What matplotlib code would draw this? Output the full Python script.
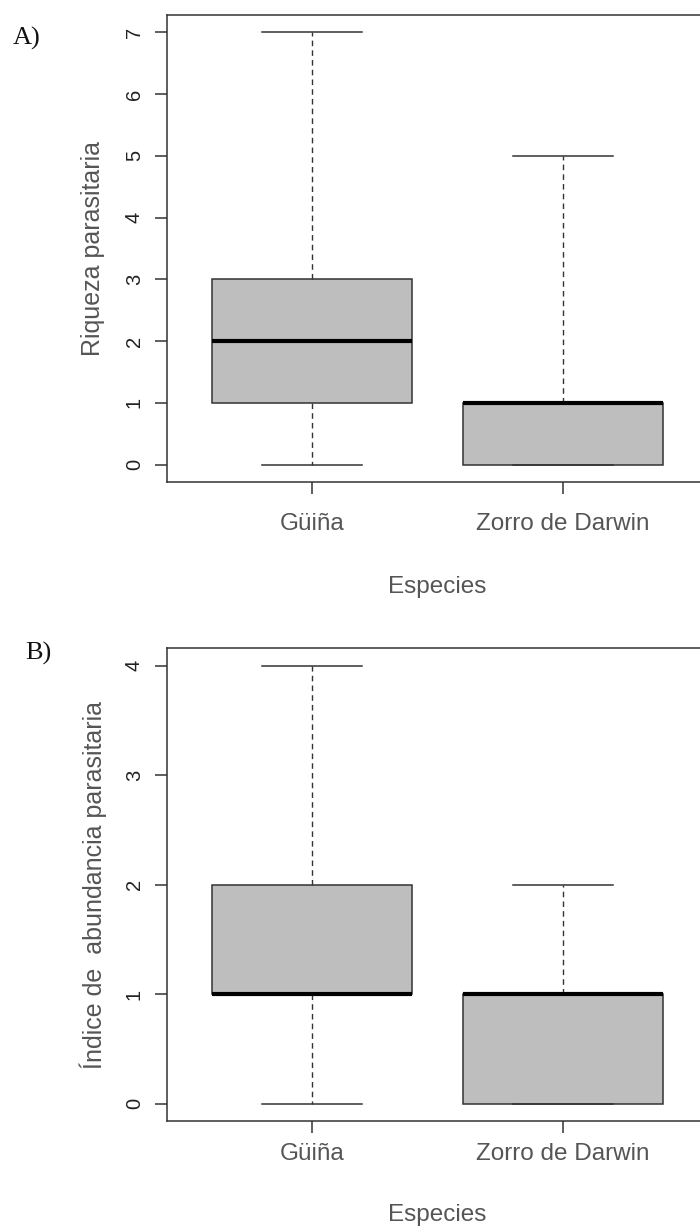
import matplotlib.pyplot as plt

# five-number summaries
species = ['Güiña', 'Zorro de Darwin']

riqueza_min = [0, 0]
riqueza_q1 = [1, 0]
riqueza_med = [2, 1]
riqueza_q3 = [3, 1]
riqueza_max = [7, 5]

abund_min = [0, 0]
abund_q1 = [1, 0]
abund_med = [1, 1]
abund_q3 = [2, 1]
abund_max = [4, 2]

edge = '#333333'
txt = '#555555'


def make_stats(mins, q1s, meds, q3s, maxs):
    out = []
    for lo, a, m, b, hi in zip(mins, q1s, meds, q3s, maxs):
        out.append({'whislo': lo, 'q1': a, 'med': m, 'q3': b, 'whishi': hi, 'fliers': []})
    return out


def draw_panel(ax, stats, ymax, ylabel, tickpad, xlab_y):
    ax.bxp(stats, positions=[1, 2], widths=0.8, patch_artist=True, showfliers=False,
           boxprops=dict(facecolor='#bebebe', edgecolor=edge, linewidth=1.1),
           medianprops=dict(color='black', linewidth=3.0, solid_capstyle='butt'),
           whiskerprops=dict(color=edge, linewidth=1.0, linestyle=(0, (4, 3))),
           capprops=dict(color=edge, linewidth=1.1), capwidths=0.4)
    pad = ymax * 0.04
    ax.set_ylim(-pad, ymax + pad)
    ax.set_xlim(0.42, 2.58)
    ax.set_yticks(range(0, ymax + 1))
    ax.set_xticks([1, 2])
    ax.set_xticklabels(species)
    for s in ax.spines.values():
        s.set_color(edge)
        s.set_linewidth(1.1)
    ax.tick_params(axis='both', length=8.6, width=1.1, color=edge)
    ax.tick_params(axis='y', labelsize=14.5, labelcolor='#222222', pad=8)
    ax.tick_params(axis='x', labelsize=17.5, labelcolor=txt, pad=tickpad)
    for lab in ax.get_yticklabels():
        lab.set_rotation(90)
        lab.set_va('center')
    ax.set_xlabel('Especies', fontsize=17.5, color=txt)
    ax.xaxis.set_label_coords(0.5, xlab_y)
    ax.xaxis.label.set_va('center')
    ax.set_ylabel(ylabel, fontsize=18, color=txt)
    ax.yaxis.set_label_coords(-0.137, 0.5)
    ax.yaxis.label.set_va('center')


plt.rcParams['font.family'] = ['Liberation Sans', 'DejaVu Sans']

fig = plt.figure(figsize=(7, 12.28), dpi=100)
ax1 = fig.add_axes([0.2386, 0.6075, 0.7729, 0.3803])
ax2 = fig.add_axes([0.2386, 0.0871, 0.7729, 0.3852])

draw_panel(ax1, make_stats(riqueza_min, riqueza_q1, riqueza_med, riqueza_q3, riqueza_max),
           7, 'Riqueza parasitaria', 14, -0.225)
draw_panel(ax2, make_stats(abund_min, abund_q1, abund_med, abund_q3, abund_max),
           4, 'Índice de  abundancia parasitaria', 7, -0.199)

fig.text(27 / 700, 1 - 38 / 1228, 'A)', family='Liberation Serif', fontsize=19,
         ha='center', va='center', color='#111111')
fig.text(38 / 700, 1 - 653 / 1228, 'B)', family='Liberation Serif', fontsize=19,
         ha='center', va='center', color='#111111')

fig.savefig('out.png', dpi=100)
